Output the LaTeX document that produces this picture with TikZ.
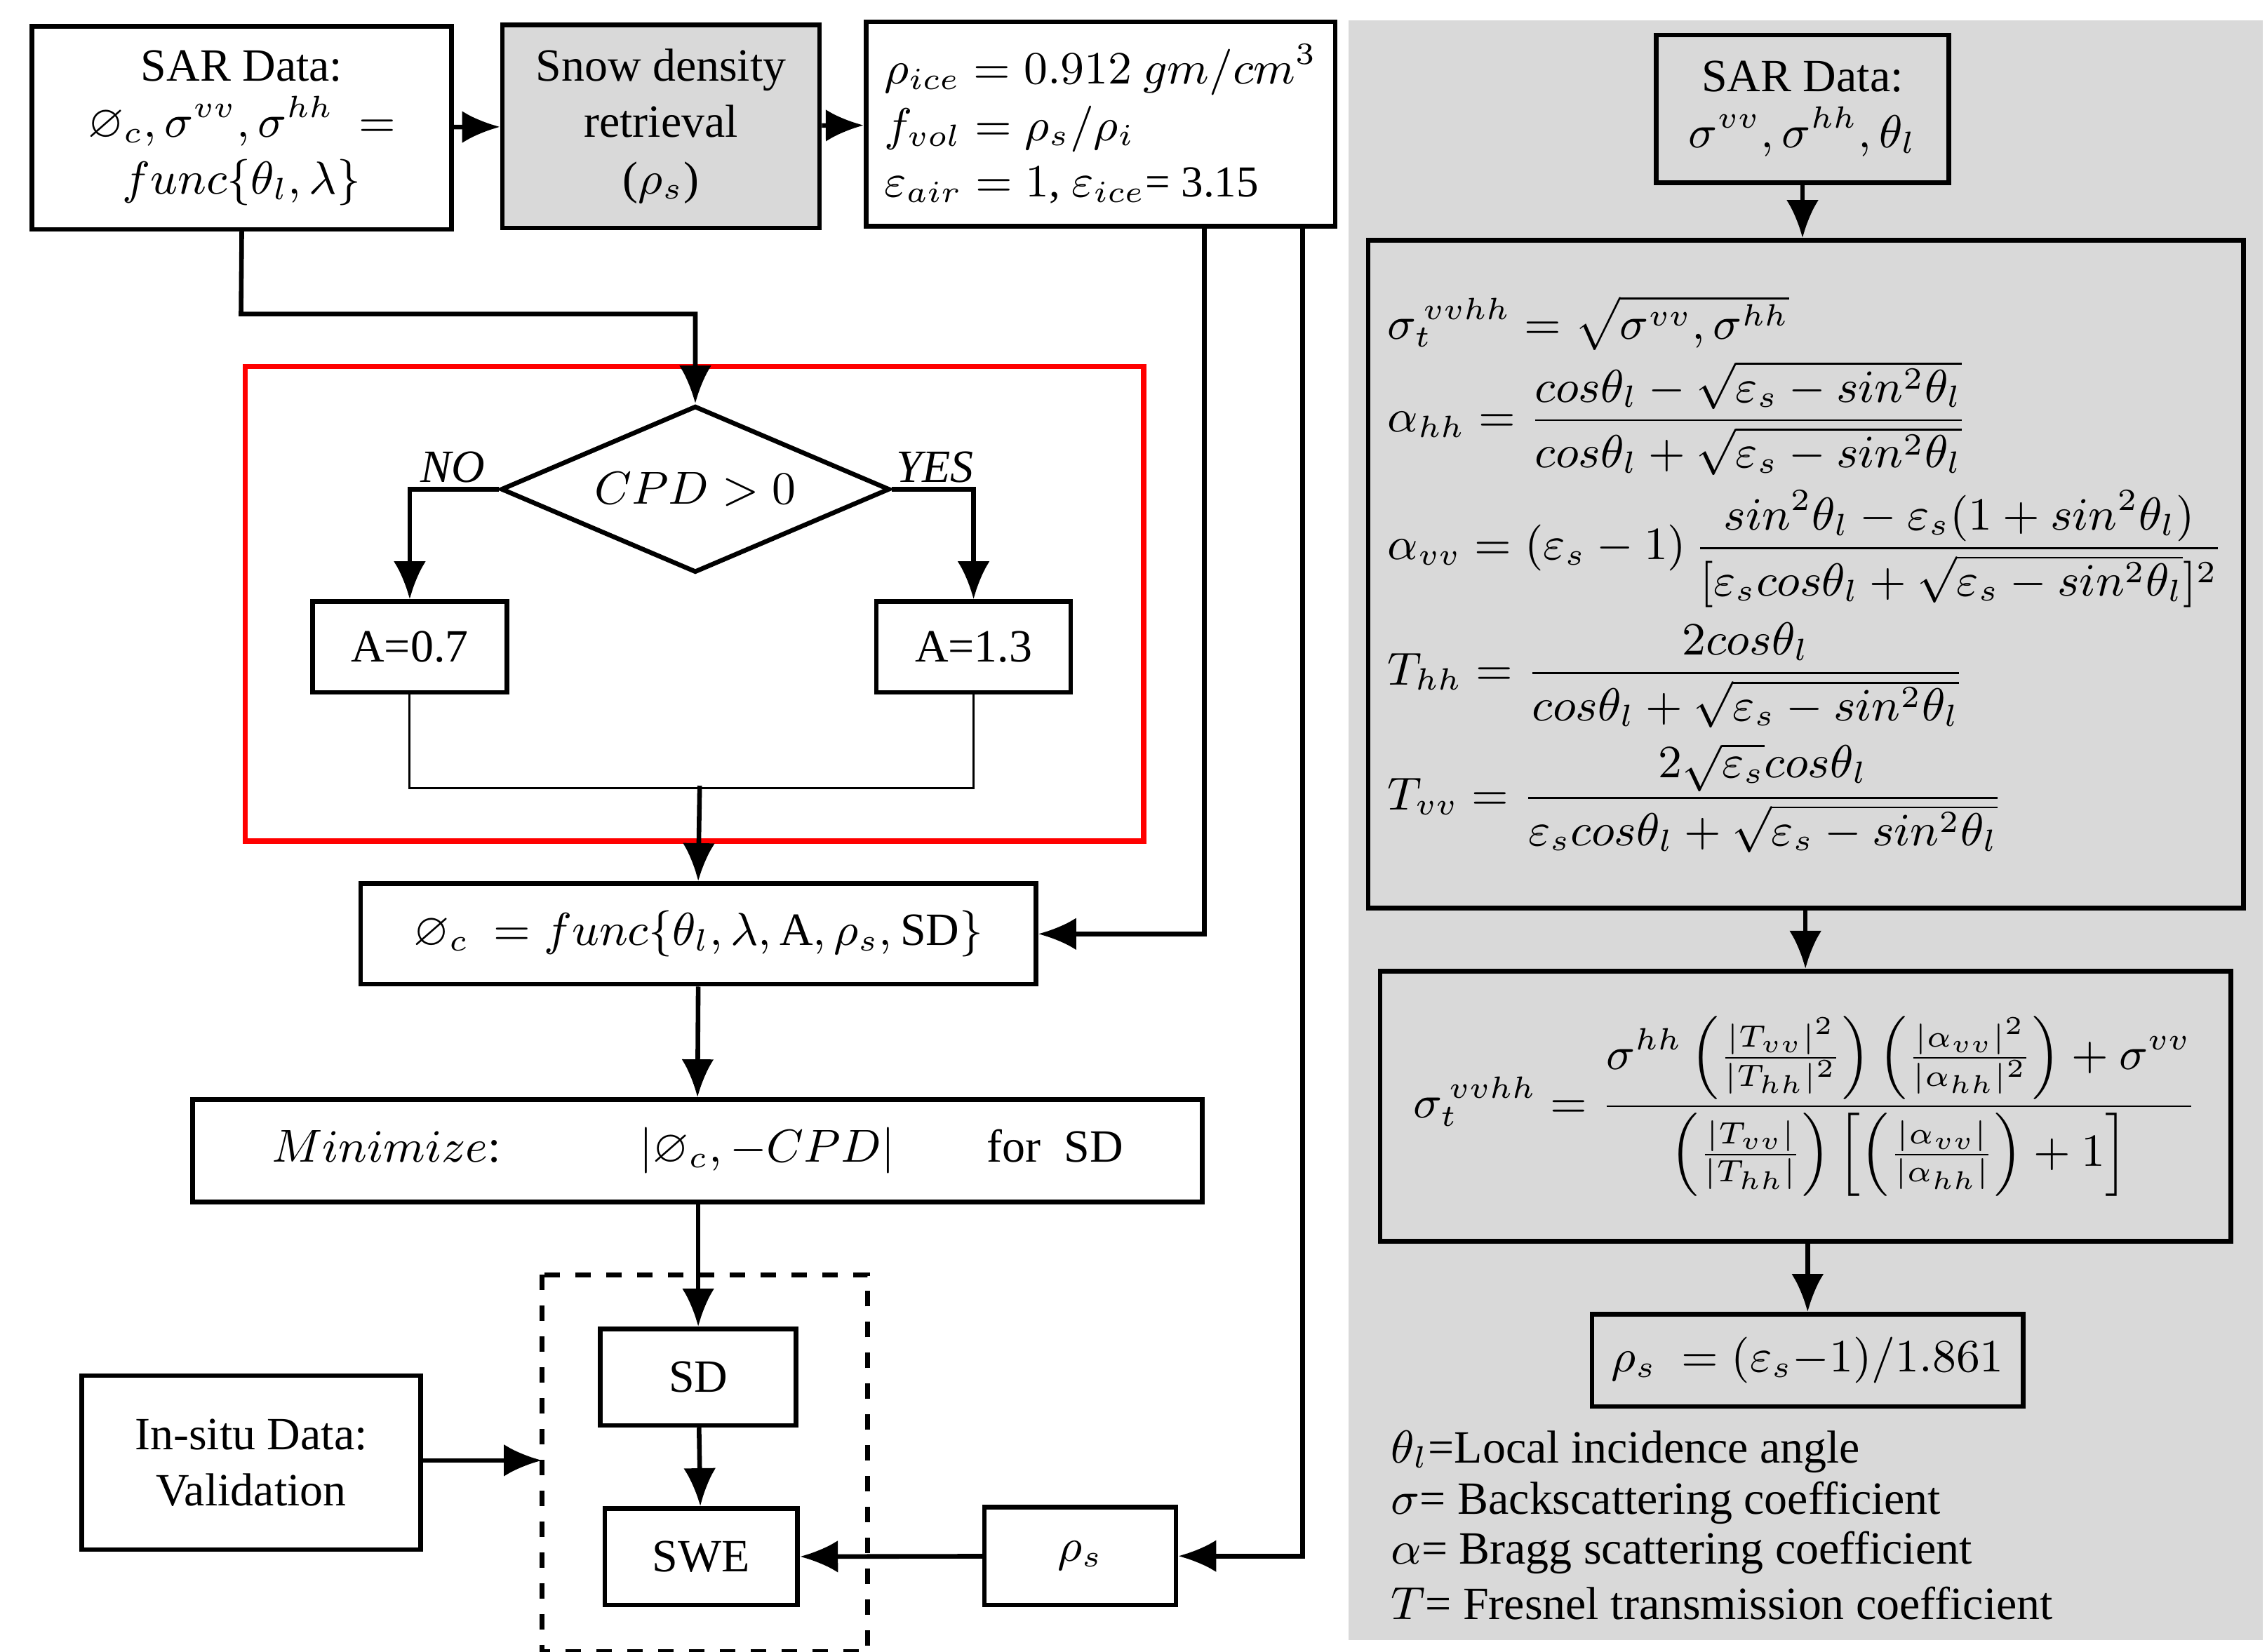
\documentclass[tikz,border=0pt]{standalone}
\usepackage{amsmath,amssymb}
\usepackage{fontspec}
\setmainfont{Liberation Serif}
\usetikzlibrary{arrows.meta,positioning,calc,shapes.geometric}

\begin{document}
\begin{tikzpicture}[x=0.01cm, y=-0.01cm, >={Latex[length=2.6mm,width=2.2mm]},
  every node/.style={font=\fontsize{9}{11}\selectfont},
  box/.style={draw, line width=0.9pt, align=center, inner sep=1mm},
  arr/.style={->, line width=0.9pt}]
  \useasboundingbox (0,0) rectangle (1552,1131);
  \fill[gray!30] (923,14) rectangle (1549,1123);
  % left column
  \node[box, minimum width=2.87cm, minimum height=1.39cm] (sar) at (165.5,87.5) {SAR Data:\\$\varnothing_c,\sigma^{vv},\sigma^{hh}\ =$\\$func\{\theta_l,\lambda\}$};
  \node[box, fill=gray!30, minimum width=2.17cm, minimum height=1.39cm] (snow) at (452.5,86.5) {Snow density\\retrieval\\($\rho_s$)};
  \node[box, align=left, minimum width=3.21cm, minimum height=1.40cm, inner sep=0.6mm, font=\fontsize{8.6}{11}\selectfont] (rhoi) at (753.5,85) {$\rho_{ice} = 0.912\ gm/cm^3$\\$f_{vol} = \rho_s/\rho_i$\\$\varepsilon_{air}=1$, $\varepsilon_{ice}$= 3.15};
  \draw[arr] (sar) -- (snow);
  \draw[arr] (snow) -- (rhoi);
  \draw[red, line width=1pt] (168,251) rectangle (783,576);
  \node[draw, diamond, aspect=2.33, line width=0.9pt, inner sep=0, minimum width=2.66cm, minimum height=1.14cm] (cpd) at (476,335) {$CPD>0$};
  \node at (310,320) {\textit{NO}};
  \node at (640,320) {\textit{YES}};
  \node[box, minimum width=1.33cm, minimum height=0.62cm] (a07) at (280.5,443) {A=0.7};
  \node[box, minimum width=1.33cm, minimum height=0.62cm] (a13) at (666.5,443) {A=1.3};
  \coordinate (j1) at (165,215);
  \draw[arr] (sar.south) -- (j1) -| (cpd.north);
  \draw[arr] (cpd.west) -| (a07.north);
  \draw[arr] (cpd.east) -| (a13.north);
  \draw[thin] (a07.south) -- ++(0,64) -| (a13.south);
  \coordinate (m) at (479,538);
  \node[box, minimum width=4.62cm, minimum height=0.69cm] (phi) at (478,639.5) {$\varnothing_c\ = func\{\theta_l,\lambda,\mathrm{A},\rho_s,\mathrm{SD}\}$};
  \draw[arr] (m) -- (phi.north);
  \draw[arr] ([xshift=-0.91cm]rhoi.south east) |- (phi.east);
  \node[box, minimum width=6.91cm, minimum height=0.70cm] (mini) at (477.5,788) {$Minimize$:\qquad\quad $|\varnothing_c,-CPD|$\qquad for\ \ SD};
  \draw[arr] (phi.south) -- (mini.north);
  \draw[dashed, line width=0.9pt] (371,873) rectangle (594,1131);
  \coordinate (dl) at (371,1000);
  \node[box, minimum width=1.34cm, minimum height=0.66cm] (sd) at (478,943) {SD};
  \node[box, minimum width=1.32cm, minimum height=0.66cm] (swe) at (480,1066) {SWE};
  \draw[arr] (mini.south -| sd.north) -- (sd.north);
  \draw[arr] (sd) -- (swe);
  \node[box, minimum width=2.32cm, minimum height=1.19cm] (insitu) at (172,1001.5) {In-situ Data:\\Validation};
  \draw[arr] (insitu.east |- dl) -- (dl);
  \node[box, minimum width=1.31cm, minimum height=0.67cm] (rhos) at (739.5,1065.5) {$\rho_s$};
  \draw[arr] ([xshift=-0.24cm]rhoi.south east) |- (rhos.east);
  \draw[arr] (rhos) -- (swe);
  % right column
  \node[box, minimum width=2.0cm, minimum height=1.01cm] (sar2) at (1234,74.5) {SAR Data:\\$\sigma^{vv},\sigma^{hh},\theta_l$};
  \node[box, align=left, anchor=north west, minimum width=5.99cm, minimum height=4.57cm, font=\fontsize{8.6}{10.5}\selectfont] (eqs) at (935,163) {%
    $\sigma_t^{\,vvhh} = \sqrt{\sigma^{vv},\sigma^{hh}}$\\[1pt]
    $\alpha_{hh} = \dfrac{cos\theta_l-\sqrt{\varepsilon_s-sin^2\theta_l}}{cos\theta_l+\sqrt{\varepsilon_s-sin^2\theta_l}}$\\[2pt]
    $\alpha_{vv} = (\varepsilon_s-1)\,\dfrac{sin^2\theta_l-\varepsilon_s(1+sin^2\theta_l)}{[\varepsilon_s cos\theta_l+\sqrt{\varepsilon_s-sin^2\theta_l}]^2}$\\[2pt]
    $T_{hh} = \dfrac{2cos\theta_l}{cos\theta_l+\sqrt{\varepsilon_s-sin^2\theta_l}}$\\[2pt]
    $T_{vv} = \dfrac{2\sqrt{\varepsilon_s}cos\theta_l}{\varepsilon_s cos\theta_l+\sqrt{\varepsilon_s-sin^2\theta_l}}$};
  \draw[arr] (sar2) -- (eqs.north -| sar2.south);
  \node[box, minimum width=5.82cm, minimum height=1.85cm] (sig) at (1236,757.5) {%
    $\sigma_t^{\,vvhh} = \dfrac{\sigma^{hh}\left(\frac{|T_{vv}|^2}{|T_{hh}|^2}\right)\left(\frac{|\alpha_{vv}|^2}{|\alpha_{hh}|^2}\right)+\sigma^{vv}}{\left(\frac{|T_{vv}|}{|T_{hh}|}\right)\left[\left(\frac{|\alpha_{vv}|}{|\alpha_{hh}|}\right)+1\right]}$};
  \draw[arr] (eqs.south -| sig.north) -- (sig.north);
  \node[box, minimum width=2.95cm, minimum height=0.63cm] (rhoe) at (1237.5,931.5) {$\rho_s\ = (\varepsilon_s{-}1)/1.861$};
  \draw[arr] (sig.south -| rhoe.north) -- (rhoe.north);
  \node[anchor=west] (l1) at (940,994) {$\theta_l$=Local incidence angle};
  \node[anchor=west] (l2) at (940,1029) {$\sigma$= Backscattering coefficient};
  \node[anchor=west] (l3) at (940,1063) {$\alpha$= Bragg scattering coefficient};
  \node[anchor=west] (l4) at (940,1098) {$T$= Fresnel transmission coefficient};
\end{tikzpicture}
\end{document}
